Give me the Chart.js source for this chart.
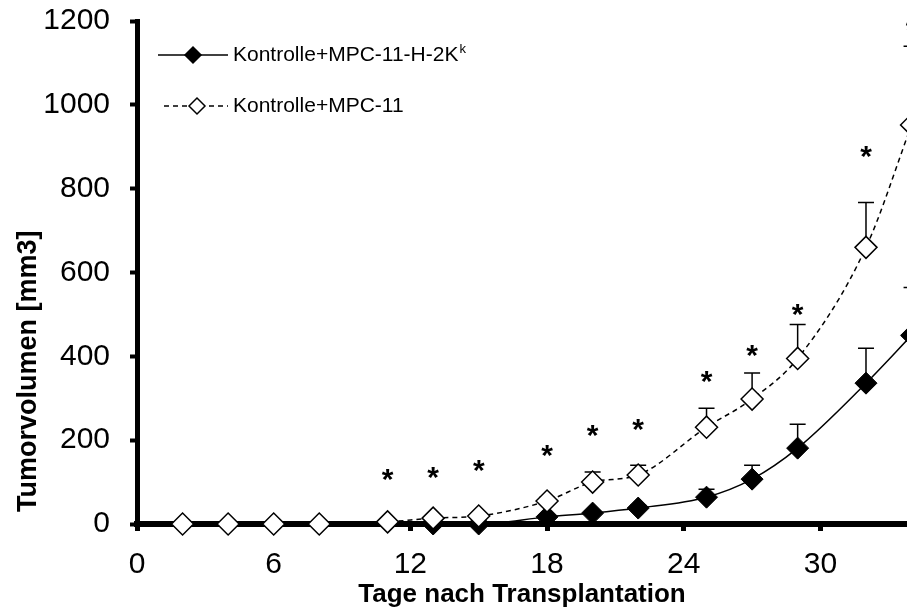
<!DOCTYPE html>
<html>
<head>
<meta charset="utf-8">
<script src="https://cdn.jsdelivr.net/npm/chart.js@4.4.0/dist/chart.umd.min.js"></script>
<style>
  html, body { margin: 0; padding: 0; background: #fff; }
</style>
</head>
<body>
<canvas id="tumorChart" width="907" height="612"></canvas>
<script>
// days after transplantation
const days = [2, 4, 6, 8, 11, 13, 15, 18, 20, 22, 25, 27, 29, 32, 34];
// Kontrolle+MPC-11-H-2Kk (filled diamonds)
const h2kMean = [null, null, null, null, null, 0, 0, 17, 26, 38, 64, 107, 181, 336, 450];
const h2kErr = [null, null, null, null, null, 0, 0, 3, 5, 7, 19, 33, 57, 83, 114];
// Kontrolle+MPC-11 (open diamonds)
const mpcMean = [0, 0, 0, 0, 5, 14, 19, 55, 100, 117, 231, 298, 395, 660, 952];
const mpcErr = [0, 0, 0, 0, 2, 3, 4, 8, 24, 23, 45, 62, 81, 107, 188];
// significance stars
const sigDays = [11, 13, 15, 18, 20, 22, 25, 27, 29, 32, 34];
const sigLevel = [124, 129, 145, 181, 229, 243, 357, 421, 517, 895, 1195];

const xTicks = [0, 6, 12, 18, 24, 30];
const yTicks = [0, 200, 400, 600, 800, 1000, 1200];
const seriesNames = ['Kontrolle+MPC-11-H-2K', 'Kontrolle+MPC-11'];

const FONT = "'Liberation Sans', Arial, sans-serif";

function diamond(ctx, x, y, r, fill) {
    ctx.beginPath();
    ctx.moveTo(x - r, y);
    ctx.lineTo(x, y - r);
    ctx.lineTo(x + r, y);
    ctx.lineTo(x, y + r);
    ctx.closePath();
    ctx.fillStyle = fill;
    ctx.fill();
    ctx.stroke();
}

const extras = {
    id: 'extras',
    beforeDatasetsDraw(chart) {
        const ctx = chart.ctx, xs = chart.scales.x, ys = chart.scales.y;
        ctx.save();
        ctx.strokeStyle = '#000';
        ctx.lineWidth = 1.5;
        [[h2kMean, h2kErr], [mpcMean, mpcErr]].forEach(([m, e]) => {
            days.forEach((d, i) => {
                if (m[i] == null || !e[i]) return;
                const px = xs.getPixelForValue(d);
                const y0 = ys.getPixelForValue(m[i]);
                const y1 = ys.getPixelForValue(m[i] + e[i]);
                ctx.beginPath();
                ctx.moveTo(px, y0);
                ctx.lineTo(px, y1);
                ctx.moveTo(px - 8, y1);
                ctx.lineTo(px + 8, y1);
                ctx.stroke();
            });
        });
        ctx.restore();
    },
    afterDraw(chart) {
        const ctx = chart.ctx, xs = chart.scales.x, ys = chart.scales.y;
        ctx.save();
        // y axis title, starting a little above the x axis
        ctx.save();
        ctx.translate(29, chart.chartArea.bottom - 12);
        ctx.rotate(-Math.PI / 2);
        ctx.fillStyle = '#000';
        ctx.font = 'bold 27px ' + FONT;
        ctx.textAlign = 'left';
        ctx.textBaseline = 'middle';
        ctx.fillText('Tumorvolumen [mm3]', 0, 0);
        ctx.restore();

        // stars
        ctx.fillStyle = '#000';
        ctx.font = 'bold 30px ' + FONT;
        ctx.textAlign = 'center';
        ctx.textBaseline = 'alphabetic';
        sigDays.forEach((d, i) => {
            ctx.fillText('*', xs.getPixelForValue(d), ys.getPixelForValue(sigLevel[i]) + 17);
        });

        // legend
        ctx.strokeStyle = '#000';
        ctx.lineWidth = 1.5;
        ctx.beginPath();
        ctx.moveTo(158, 55);
        ctx.lineTo(228, 55);
        ctx.stroke();
        diamond(ctx, 193, 55, 8, '#000');

        ctx.setLineDash([5, 4]);
        ctx.beginPath();
        ctx.moveTo(164, 106);
        ctx.lineTo(228, 106);
        ctx.stroke();
        ctx.setLineDash([]);
        diamond(ctx, 197, 106, 8, '#fff');

        ctx.fillStyle = '#000';
        ctx.textAlign = 'left';
        ctx.textBaseline = 'middle';
        ctx.font = '21px ' + FONT;
        ctx.fillText(seriesNames[0], 233, 55);
        const w = ctx.measureText(seriesNames[0]).width;
        ctx.font = '13px ' + FONT;
        ctx.fillText('k', 233 + w + 1, 49);
        ctx.font = '21px ' + FONT;
        ctx.fillText(seriesNames[1], 233, 106);
        ctx.restore();
    }
};

new Chart('tumorChart', {
    type: 'line',
    data: {
        datasets: [
            {
                label: seriesNames[0],
                data: days.map((d, i) => ({ x: d, y: h2kMean[i] })),
                borderColor: '#000',
                borderWidth: 1.5,
                backgroundColor: '#000',
                pointStyle: 'rectRot',
                pointRadius: 11,
                pointBackgroundColor: '#000',
                pointBorderColor: '#000',
                pointBorderWidth: 1,
                cubicInterpolationMode: 'monotone',
                spanGaps: false,
                clip: false,
                order: 2
            },
            {
                label: seriesNames[1],
                data: days.map((d, i) => ({ x: d, y: mpcMean[i] })),
                borderColor: '#000',
                borderWidth: 1.5,
                borderDash: [5, 4],
                backgroundColor: '#fff',
                pointStyle: 'rectRot',
                pointRadius: 11,
                pointBackgroundColor: '#fff',
                pointBorderColor: '#000',
                pointBorderWidth: 1.5,
                cubicInterpolationMode: 'monotone',
                clip: false,
                order: 1
            }
        ]
    },
    options: {
        responsive: false,
        animation: false,
        devicePixelRatio: 1,
        layout: { autoPadding: false, padding: { top: 21, left: 0, right: 0, bottom: 0 } },
        plugins: {
            legend: { display: false },
            tooltip: { enabled: false }
        },
        scales: {
            x: {
                type: 'linear',
                min: 0,
                max: 33.8,
                afterFit: s => { s.height = 88; s.paddingLeft = 0; s.paddingRight = 0; },
                afterBuildTicks: s => { s.ticks = xTicks.map(v => ({ value: v })); },
                grid: { display: true, drawOnChartArea: false, drawTicks: true, tickLength: 7, tickWidth: 5, tickColor: '#000' },
                border: { display: true, color: '#000', width: 6 },
                ticks: { color: '#000', font: { family: FONT, size: 30 }, padding: 16, maxRotation: 0, callback: v => String(v) },
                title: {
                    display: true,
                    text: 'Tage nach Transplantation',
                    color: '#000',
                    font: { family: FONT, size: 26, weight: 'bold' },
                    padding: { top: 0, bottom: 2 }
                }
            },
            y: {
                min: 0,
                max: 1200,
                afterFit: s => { s.width = 137; s.paddingTop = 0; s.paddingBottom = 0; },
                afterBuildTicks: s => { s.ticks = yTicks.map(v => ({ value: v })); },
                grid: { display: true, drawOnChartArea: false, drawTicks: true, tickLength: 7, tickWidth: 4, tickColor: '#000' },
                border: { display: true, color: '#000', width: 5 },
                ticks: { color: '#000', font: { family: FONT, size: 30 }, padding: 20, callback: v => String(v) },
                title: { display: false }
            }
        }
    },
    plugins: [extras]
});
</script>
</body>
</html>
